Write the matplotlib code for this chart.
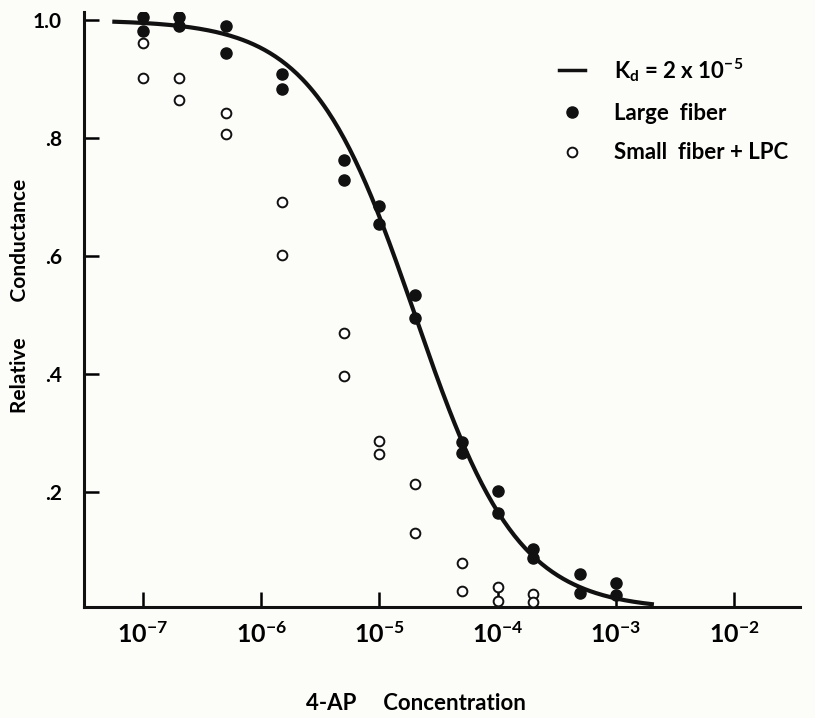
import numpy as np
import matplotlib
matplotlib.use("Agg")
import matplotlib.pyplot as plt
from matplotlib.lines import Line2D

plt.rcParams["font.family"] = ["Lato", "DejaVu Sans"]
plt.rcParams["font.weight"] = "bold"
plt.rcParams["mathtext.fontset"] = "custom"
plt.rcParams["mathtext.rm"] = "Lato:bold"
plt.rcParams["mathtext.default"] = "regular"

# data
conc_large = [1e-7, 2e-7, 5e-7, 1.5e-6, 5e-6, 1e-5, 2e-5, 5e-5, 1e-4, 2e-4, 5e-4, 1e-3]
large_hi = [1.005, 1.005, 0.99, 0.908, 0.763, 0.685, 0.534, 0.285, 0.202, 0.103, 0.061, 0.046]
large_lo = [0.981, 0.99, 0.944, 0.883, 0.729, 0.654, 0.495, 0.266, 0.164, 0.088, 0.029, 0.025]

conc_small = [1e-7, 2e-7, 5e-7, 1.5e-6, 5e-6, 1e-5, 2e-5, 5e-5, 1e-4, 2e-4]
small_hi = [0.961, 0.902, 0.842, 0.692, 0.470, 0.287, 0.214, 0.080, 0.039, 0.027]
small_lo = [0.902, 0.864, 0.807, 0.602, 0.397, 0.265, 0.131, 0.032, 0.015, 0.014]

Kd = 2e-5
curve_range = (5.5e-8, 2.1e-3)

xticks = [1e-7, 1e-6, 1e-5, 1e-4, 1e-3, 1e-2]
xticklabels = [r"$10^{-7}$", r"$10^{-6}$", r"$10^{-5}$", r"$10^{-4}$", r"$10^{-3}$", r"$10^{-2}$"]
yticks = [0.2, 0.4, 0.6, 0.8, 1.0]
yticklabels = [".2", ".4", ".6", ".8", "1.0"]

bg = "#fcfcf9"
ink = "#111111"
fig = plt.figure(figsize=(8.15, 7.18), dpi=100, facecolor=bg)
ax = fig.add_axes([84 / 815, 1 - 607 / 718, 716 / 815, 595 / 718], facecolor=bg)

# fitted curve for single-site binding
c = np.logspace(np.log10(curve_range[0]), np.log10(curve_range[1]), 300)
ax.plot(c, 1 / (1 + c / Kd), color=ink, lw=3.0, solid_capstyle="butt", zorder=2)

for vals in (large_hi, large_lo):
    ax.plot(conc_large, vals, "o", color=ink, ms=8, zorder=3)
for vals in (small_hi, small_lo):
    ax.plot(conc_small, vals, "o", mfc="white", mec=ink, mew=1.4, ms=7, zorder=3)

ax.set_xscale("log")
ax.set_xlim(10 ** -7.499, 10 ** -1.442)
ax.set_ylim(0.005, 1.0136)

ax.set_xticks(xticks)
ax.set_xticklabels(xticklabels)
ax.minorticks_off()
ax.set_yticks(yticks)
ax.set_yticklabels(yticklabels)

for s in ("top", "right"):
    ax.spines[s].set_visible(False)
for s in ("left", "bottom"):
    ax.spines[s].set_linewidth(2.2)
    ax.spines[s].set_color(ink)

ax.tick_params(axis="x", direction="in", length=11, width=1.8, pad=10, labelsize=18)
ax.tick_params(axis="y", direction="in", length=11, width=1.8, pad=16, labelsize=15)

ax.set_xlabel("4-AP     Concentration", fontsize=16, fontweight="bold")
ax.xaxis.set_label_coords((416 - 84) / 716, -0.145)
ax.set_ylabel("Relative       Conductance", fontsize=15, fontweight="bold")
ax.yaxis.set_label_coords(-0.075, 0.523)

handles = [
    Line2D([], [], color=ink, lw=2.5),
    Line2D([], [], ls="", marker="o", color=ink, ms=8),
    Line2D([], [], ls="", marker="o", mfc="white", mec=ink, mew=1.4, ms=7),
]
labels = [r"K$_d$ = 2 x 10$^{-5}$", "Large  fiber", "Small  fiber + LPC"]
ax.legend(handles, labels, loc="upper left", bbox_to_anchor=(0.635, 0.96),
          frameon=False, fontsize=16, handlelength=1.2, handletextpad=1.3,
          labelspacing=0.85)

fig.savefig("out.png", dpi=100, facecolor=bg)
